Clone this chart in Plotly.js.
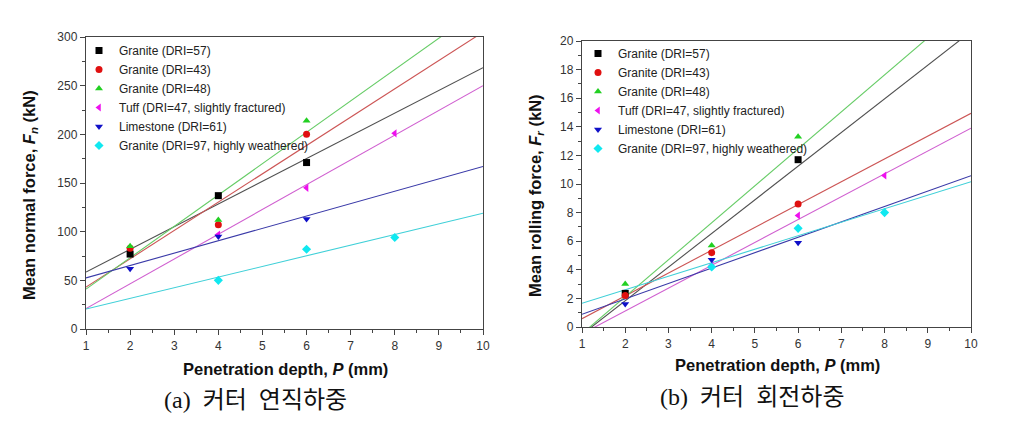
<!DOCTYPE html>
<html>
<head>
<meta charset="utf-8">
<script src="https://cdn.plot.ly/plotly-3.0.1.min.js"></script>
<style>html,body{margin:0;padding:0;background:#fff;}#chart{width:1011px;height:424px;}</style>
</head>
<body>
<div id="chart"></div>
<script>
// ---- data ----
const seriesNames = [
  'Granite (DRI=57)',
  'Granite (DRI=43)',
  'Granite (DRI=48)',
  'Tuff (DRI=47, slightly fractured)',
  'Limestone (DRI=61)',
  'Granite (DRI=97, highly weathered)'
];
// (a) mean normal force Fn (kN)
const depthA = [[2,4,6],[2,4,6],[2,4,6],[4,6,8],[2,4,6],[4,6,8]];
const normalForce = [
  [77, 137, 171],
  [83, 107, 200],
  [85, 112, 214],
  [97, 145, 201],
  [62, 95, 113],
  [50, 82, 94]
];
// (b) mean rolling force Fr (kN)
const depthB = [[2,6],[2,4,6],[2,4,6],[4,6,8],[2,4,6],[4,6,8]];
const rollingForce = [
  [2.35, 11.7],
  [2.2, 5.2, 8.6],
  [3.0, 5.7, 13.3],
  [4.3, 7.8, 10.6],
  [1.6, 4.7, 5.9],
  [4.2, 6.9, 8.0]
];
// fitted lines: values read at P = 1 mm and P = 10 mm
const fitDepth = [1, 10];
const normalFitAt1  = [58.5, 43, 41, 21, 52.5, 20.5];
const normalFitAt10 = [268.5, 305, 331, 250, 167, 119];
const rollingFitAt1  = [-0.52, 0.58, -0.47, -0.48, 0.89, 1.66];
const rollingFitAt10 = [20.66, 14.94, 22.8, 13.9, 10.58, 10.16];
const xTicks = [1,2,3,4,5,6,7,8,9,10];
const captionA = '(a)  커터  연직하중';
const captionB = '(b)  커터  회전하중';

// ---- styles ----
const markerColors = ['#000000', '#e01010', '#22d022', '#ee10ee', '#1010c8', '#10e8f0'];
const lineColors   = ['#505050', '#cc5555', '#66cc66', '#d060d0', '#3a3aa8', '#40d0d8'];
const symbols = ['square', 'circle', 'triangle-up', 'triangle-left', 'triangle-down', 'diamond'];
const sansFont = 'Liberation Sans, Arial, sans-serif';

const traces = [];
function addPanel(depths, values, fit1, fit10, xa, ya, legendId) {
  for (let i = 0; i < seriesNames.length; i++) {
    traces.push({
      type: 'scatter', mode: 'lines', x: fitDepth, y: [fit1[i], fit10[i]],
      xaxis: xa, yaxis: ya, showlegend: false, hoverinfo: 'skip',
      line: {color: lineColors[i], width: 1.1}
    });
  }
  for (let i = 0; i < seriesNames.length; i++) {
    traces.push({
      type: 'scatter', mode: 'markers', name: seriesNames[i],
      x: depths[i], y: values[i], xaxis: xa, yaxis: ya, legend: legendId,
      marker: {symbol: symbols[i], color: markerColors[i], size: 7}
    });
  }
}
addPanel(depthA, normalForce, normalFitAt1, normalFitAt10, 'x', 'y', 'legend');
addPanel(depthB, rollingForce, rollingFitAt1, rollingFitAt10, 'x2', 'y2', 'legend2');

const W = 1011, H = 424;
const px = v => v / W;
const py = v => 1 - v / H;

function xAxis(domain, anchor) {
  return {
    domain: domain, anchor: anchor, range: [1, 10], tickvals: xTicks,
    showgrid: false, zeroline: false, showline: true, linecolor: '#444', linewidth: 1.2,
    mirror: true, ticks: 'outside', ticklen: 5, tickwidth: 1, tickcolor: '#444',
    minor: {ticks: 'outside', dtick: 0.5, ticklen: 3, tickcolor: '#444', showgrid: false},
    tickfont: {family: sansFont, size: 12, color: '#333'}
  };
}
function yAxis(domain, anchor, range, dtick, minorDtick) {
  return {
    domain: domain, anchor: anchor, range: range, dtick: dtick, tick0: 0,
    showgrid: false, zeroline: false, showline: true, linecolor: '#444', linewidth: 1.2,
    mirror: true, ticks: 'outside', ticklen: 5, tickwidth: 1, tickcolor: '#444',
    minor: {ticks: 'outside', dtick: minorDtick, ticklen: 3, tickcolor: '#444', showgrid: false},
    tickfont: {family: sansFont, size: 12, color: '#333'}
  };
}

const titleFont = {family: sansFont, size: 16.5, color: '#111'};
const captionFont = {family: 'Liberation Serif, Noto Sans CJK KR, serif', size: 24, color: '#111'};
const legendStyle = {
  bgcolor: 'rgba(0,0,0,0)', borderwidth: 0, xanchor: 'left', yanchor: 'top',
  font: {family: sansFont, size: 12, color: '#222'}, itemwidth: 30, tracegroupgap: 0
};

const layout = {
  width: W, height: H, margin: {l: 0, r: 0, t: 0, b: 0},
  paper_bgcolor: '#fff', plot_bgcolor: '#fff', showlegend: true,
  xaxis: xAxis([px(86), px(483)], 'y'),
  yaxis: yAxis([1 - 329 / H, 1 - 37 / H], 'x', [0, 300], 50, 25),
  xaxis2: xAxis([px(582), px(971)], 'y2'),
  yaxis2: yAxis([1 - 327 / H, 1 - 41 / H], 'x2', [0, 20], 2, 1),
  legend: Object.assign({x: px(79), y: py(36)}, legendStyle),
  legend2: Object.assign({x: px(578), y: py(39)}, legendStyle),
  annotations: [
    {text: '<b>Mean normal force, <i>F</i><sub><i>n</i></sub> (kN)</b>', xref: 'paper', yref: 'paper',
     x: px(30), y: py(195), textangle: -90, showarrow: false, font: titleFont, xanchor: 'center', yanchor: 'middle'},
    {text: '<b>Mean rolling force, <i>F</i><sub><i>r</i></sub> (kN)</b>', xref: 'paper', yref: 'paper',
     x: px(536), y: py(196), textangle: -90, showarrow: false, font: titleFont, xanchor: 'center', yanchor: 'middle'},
    {text: '<b>Penetration depth, <i>P</i> (mm)</b>', xref: 'paper', yref: 'paper',
     x: px(285), y: py(369), showarrow: false, font: titleFont, xanchor: 'center', yanchor: 'middle'},
    {text: '<b>Penetration depth, <i>P</i> (mm)</b>', xref: 'paper', yref: 'paper',
     x: px(777), y: py(365), showarrow: false, font: titleFont, xanchor: 'center', yanchor: 'middle'},
    {text: captionA, xref: 'paper', yref: 'paper', x: px(255), y: py(400),
     showarrow: false, font: captionFont, xanchor: 'center', yanchor: 'middle'},
    {text: captionB, xref: 'paper', yref: 'paper', x: px(752), y: py(397),
     showarrow: false, font: captionFont, xanchor: 'center', yanchor: 'middle'}
  ]
};

Plotly.newPlot('chart', traces, layout, {displayModeBar: false, staticPlot: true});
</script>
</body>
</html>
